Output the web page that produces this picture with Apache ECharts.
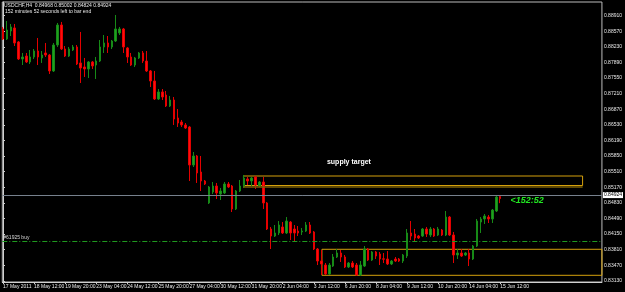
<!DOCTYPE html>
<html>
<head>
<meta charset="utf-8">
<script src="https://cdn.jsdelivr.net/npm/echarts@6/dist/echarts.min.js"></script>
<style>
  html, body { margin: 0; padding: 0; background: #000; }
  #chart { width: 625px; height: 292px; }
</style>
</head>
<body>
<div id="chart"></div>
<script>
// USDCHF H4 bars, left to right
var openP = [0.88620,0.88402,0.88576,0.88642,0.88337,0.87966,0.88031,0.87901,0.88010,0.88140,
  0.87988,0.88097,0.88053,0.87705,0.88271,0.88707,0.88184,0.88031,0.88162,0.88228,
  0.87879,0.87792,0.87748,0.87901,0.87835,0.87922,0.88228,0.88315,0.88228,0.88358,
  0.88533,0.88620,0.88206,0.88010,0.87835,0.87988,0.88097,0.87922,0.87705,0.87487,
  0.87094,0.87247,0.87181,0.86942,0.87072,0.86680,0.86593,0.86528,0.86484,0.85656,
  0.85852,0.85503,0.85307,0.84828,0.85067,0.85198,0.85024,0.85046,0.85242,0.85198,
  0.84697,0.85089,0.85176,0.85351,0.85307,0.85394,0.85198,0.85285,0.84828,0.84261,
  0.84108,0.84174,0.84305,0.84174,0.84413,0.84261,0.84217,0.84196,0.84217,0.84348,
  0.84196,0.83825,0.83563,0.83476,0.83280,0.83454,0.83651,0.83738,0.83651,0.83433,
  0.83520,0.83476,0.83258,0.83454,0.83825,0.83585,0.83760,0.83716,0.83612,0.83607,
  0.83498,0.83607,0.83607,0.83563,0.83672,0.84174,0.84152,0.84108,0.84108,0.84261,
  0.84130,0.84261,0.84130,0.84239,0.84130,0.84522,0.84130,0.83694,0.83738,0.83694,
  0.83738,0.83607,0.83890,0.84413,0.84479,0.84522,0.84479,0.84653,0.84968];
var closeP = [0.88402,0.88598,0.88664,0.88315,0.87966,0.88010,0.87901,0.88010,0.88140,0.88010,
  0.88053,0.88053,0.87705,0.88271,0.88707,0.88184,0.88031,0.88184,0.88228,0.87857,
  0.87770,0.87748,0.87901,0.87814,0.87922,0.88228,0.88315,0.88228,0.88358,0.88620,
  0.88620,0.88228,0.88010,0.87835,0.87988,0.88097,0.87922,0.87705,0.87487,0.87094,
  0.87247,0.87138,0.86942,0.87072,0.86658,0.86571,0.86528,0.86462,0.85656,0.85852,
  0.85482,0.85307,0.85242,0.85176,0.85198,0.85046,0.85089,0.85242,0.85176,0.84697,
  0.85089,0.85198,0.85372,0.85307,0.85372,0.85220,0.85285,0.84828,0.84261,0.84108,
  0.84174,0.84348,0.84174,0.84435,0.84174,0.84174,0.84174,0.84217,0.84348,0.84174,
  0.83825,0.83563,0.83498,0.83280,0.83476,0.83651,0.83738,0.83651,0.83433,0.83520,
  0.83433,0.83258,0.83476,0.83825,0.83585,0.83760,0.83672,0.83607,0.83602,0.83498,
  0.83563,0.83563,0.83563,0.83694,0.84174,0.84108,0.84065,0.84065,0.84261,0.84152,
  0.84261,0.84108,0.84261,0.84130,0.84522,0.84130,0.83694,0.83738,0.83672,0.83738,
  0.83607,0.83890,0.84435,0.84479,0.84544,0.84479,0.84675,0.84958,0.84924];
var lowP = [0.88380,0.88380,0.88467,0.88249,0.87944,0.87835,0.87879,0.87857,0.87966,0.87835,
  0.87879,0.88010,0.87639,0.87683,0.88228,0.88162,0.88010,0.88010,0.88140,0.87835,
  0.87443,0.87574,0.87552,0.87748,0.87530,0.87901,0.88097,0.88097,0.88184,0.88337,
  0.88489,0.88097,0.87879,0.87814,0.87792,0.87966,0.87879,0.87683,0.87356,0.87072,
  0.87072,0.87072,0.86920,0.86920,0.86528,0.86484,0.86484,0.86440,0.85307,0.85612,
  0.85264,0.85089,0.85220,0.84806,0.85024,0.84915,0.84893,0.85024,0.85155,0.84631,
  0.84675,0.85067,0.85155,0.85220,0.85198,0.85133,0.85176,0.84697,0.84239,0.83825,
  0.84087,0.84130,0.84152,0.84152,0.84021,0.83999,0.84108,0.84130,0.84196,0.84152,
  0.83803,0.83476,0.83258,0.83258,0.83258,0.83433,0.83629,0.83542,0.83411,0.83411,
  0.83411,0.83237,0.83237,0.83433,0.83563,0.83563,0.83607,0.83476,0.83520,0.83476,
  0.83476,0.83542,0.83542,0.83520,0.83629,0.84021,0.83999,0.84043,0.84087,0.84087,
  0.84087,0.84087,0.84108,0.84108,0.84108,0.84108,0.83520,0.83607,0.83651,0.83672,
  0.83454,0.83585,0.83869,0.84174,0.84370,0.84392,0.84392,0.84631,0.84824];
var highP = [0.88664,0.88794,0.88729,0.88729,0.88358,0.88097,0.88097,0.88162,0.88184,0.88424,
  0.88140,0.88315,0.88075,0.88315,0.88751,0.88773,0.88249,0.88228,0.88271,0.88271,
  0.88555,0.87988,0.87922,0.87922,0.88010,0.88380,0.88489,0.88467,0.88380,0.88925,
  0.88664,0.88642,0.88228,0.88097,0.88010,0.88119,0.88140,0.88140,0.87726,0.87705,
  0.87312,0.87312,0.87269,0.87160,0.87138,0.86876,0.86637,0.86571,0.86506,0.85939,
  0.85874,0.85852,0.85329,0.85198,0.85285,0.85264,0.85155,0.85285,0.85285,0.85220,
  0.85111,0.85329,0.85438,0.85394,0.85394,0.85416,0.85307,0.85394,0.84849,0.84305,
  0.84348,0.84435,0.84413,0.84522,0.84435,0.84348,0.84326,0.84283,0.84413,0.84413,
  0.84217,0.83847,0.83803,0.83520,0.83520,0.83716,0.83825,0.83803,0.83694,0.83542,
  0.83563,0.83520,0.83563,0.83890,0.83847,0.83781,0.83781,0.83760,0.83738,0.83781,
  0.83585,0.83651,0.83629,0.83716,0.84261,0.84435,0.84261,0.84130,0.84283,0.84305,
  0.84305,0.84283,0.84305,0.84261,0.84653,0.84544,0.84196,0.83825,0.83825,0.83760,
  0.83825,0.83912,0.84479,0.84522,0.84588,0.84566,0.84697,0.85002,0.85002];

// axis labels
var priceTicks = [0.88910,0.88570,0.88230,0.87890,0.87550,0.87210,0.86870,0.86530,0.86190,
  0.85850,0.85510,0.85170,0.84830,0.84490,0.84150,0.83810,0.83470,0.83130];
var labelBars = [0,8,16,24,32,40,48,56,64,72,80,88,96,104,112,120,128];
var timeLabels = ['17 May 2011','18 May 12:00','19 May 20:00','23 May 04:00','24 May 12:00',
  '25 May 20:00','27 May 04:00','30 May 12:00','31 May 20:00','2 Jun 04:00','3 Jun 12:00',
  '6 Jun 20:00','8 Jun 04:00','9 Jun 12:00','10 Jun 20:00','14 Jun 04:00','15 Jun 12:00'];

// objects on the chart
var bidPrice = 0.84924;
var orderPrice = 0.84037;
var supplyBox = [61.9, 149.2, 0.85416, 0.85209];
var demandBox = [82.1, 0.83819, 0.83252];

var font = 'Liberation Sans';
var gold = '#d4a00c';

var bars = [];
for (var i = 0; i < openP.length; i++) {
    bars.push([i, openP[i], closeP[i], lowP[i], highP[i]]);
}

var myChart = echarts.init(document.getElementById('chart'), null, {renderer: 'canvas'});
var option = {
    backgroundColor: '#000',
    animation: false,
    grid: {left: 2, right: 21, top: 2, bottom: 10, show: true, borderColor: '#bcbcbc', borderWidth: 1},
    xAxis: {
        type: 'value',
        min: -0.18,
        max: 154.18,
        axisLine: {show: true, lineStyle: {color: '#d0d0d0', width: 1}},
        axisTick: {show: true, length: 2, lineStyle: {color: '#d0d0d0'}, customValues: labelBars},
        splitLine: {show: false},
        axisLabel: {
            customValues: labelBars,
            showMinLabel: true, showMaxLabel: true, hideOverlap: false,
            color: '#e8e8e8', fontSize: 5, fontFamily: font, align: 'left', margin: 2,
            formatter: function (v) {
                var k = labelBars.indexOf(Math.round(v));
                return k < 0 ? '' : timeLabels[k];
            }
        }
    },
    yAxis: {
        type: 'value',
        position: 'right',
        min: 0.83106,
        max: 0.89208,
        scale: true,
        axisLine: {show: true, lineStyle: {color: '#d0d0d0', width: 1}},
        axisTick: {show: true, length: 2, lineStyle: {color: '#d0d0d0'}, customValues: priceTicks},
        splitLine: {show: false},
        axisLabel: {
            customValues: priceTicks,
            showMinLabel: true, showMaxLabel: true, hideOverlap: false,
            color: '#e8e8e8', fontSize: 5, fontFamily: font, margin: 2,
            formatter: function (v) { return v.toFixed(5); }
        }
    },
    graphic: [
        {type: 'text', left: 4, top: 3, style: {text: 'USDCHF,H4  0.84968 0.85002 0.84824 0.84924',
            fill: '#e8e8e8', font: '5px ' + font}},
        {type: 'text', left: 5, top: 9, style: {text: '152 minutes 52 seconds left to bar end',
            fill: '#e8e8e8', font: '5px ' + font}}
    ],
    series: [
        {
            type: 'candlestick',
            data: bars,
            encode: {x: 0, y: [1, 2, 3, 4]},
            barWidth: 2,
            itemStyle: {
                color: '#1fa01f', color0: '#ff0d0d',
                borderColor: '#178a17', borderColor0: '#e40000', borderWidth: 1
            },
            markArea: {
                silent: true,
                data: [
                    [{coord: [supplyBox[0], supplyBox[2]], itemStyle: {color: 'rgba(0,0,0,0)', borderColor: gold, borderWidth: 1}},
                     {coord: [supplyBox[1], supplyBox[3]]}],
                    [{coord: [demandBox[0], demandBox[1]], itemStyle: {color: 'rgba(0,0,0,0)', borderColor: gold, borderWidth: 1}},
                     {coord: [154.18, demandBox[2]]}]
                ]
            },
            markLine: {
                silent: true,
                symbol: ['none', 'none'],
                data: [
                    {yAxis: bidPrice, lineStyle: {color: '#77818d', type: 'solid', width: 1},
                     label: {show: true, position: 'end', distance: 1, formatter: '0.84924',
                         color: '#000', backgroundColor: '#fff', padding: [1, 1, 0, 1],
                         fontSize: 5, fontFamily: font}},
                    {yAxis: orderPrice, lineStyle: {color: '#1f9a1f', type: [5, 2, 1, 2], width: 1},
                     label: {show: true, position: 'insideStartTop', distance: 1, formatter: '#61925 buy',
                         color: '#d8d8d8', fontSize: 5, fontFamily: font}},
                    [{coord: [supplyBox[0], 0.85192], lineStyle: {color: '#7a5e06', type: 'solid', width: 1.5}, label: {show: false}},
                     {coord: [supplyBox[1], 0.85192]}]
                ]
            },
            markPoint: {
                silent: true,
                symbolSize: 0,
                data: [
                    {coord: [89.05, 0.85722], label: {show: true, position: 'inside', formatter: 'supply target',
                        color: '#fff', fontSize: 7, fontWeight: 'bold', fontFamily: font}},
                    {coord: [134.9, 0.84871], label: {show: true, position: 'inside', formatter: '<152:52',
                        color: '#22e622', fontSize: 9, fontWeight: 'bold', fontStyle: 'italic', fontFamily: font}}
                ]
            }
        }
    ]
};
myChart.setOption(option);
</script>
</body>
</html>
